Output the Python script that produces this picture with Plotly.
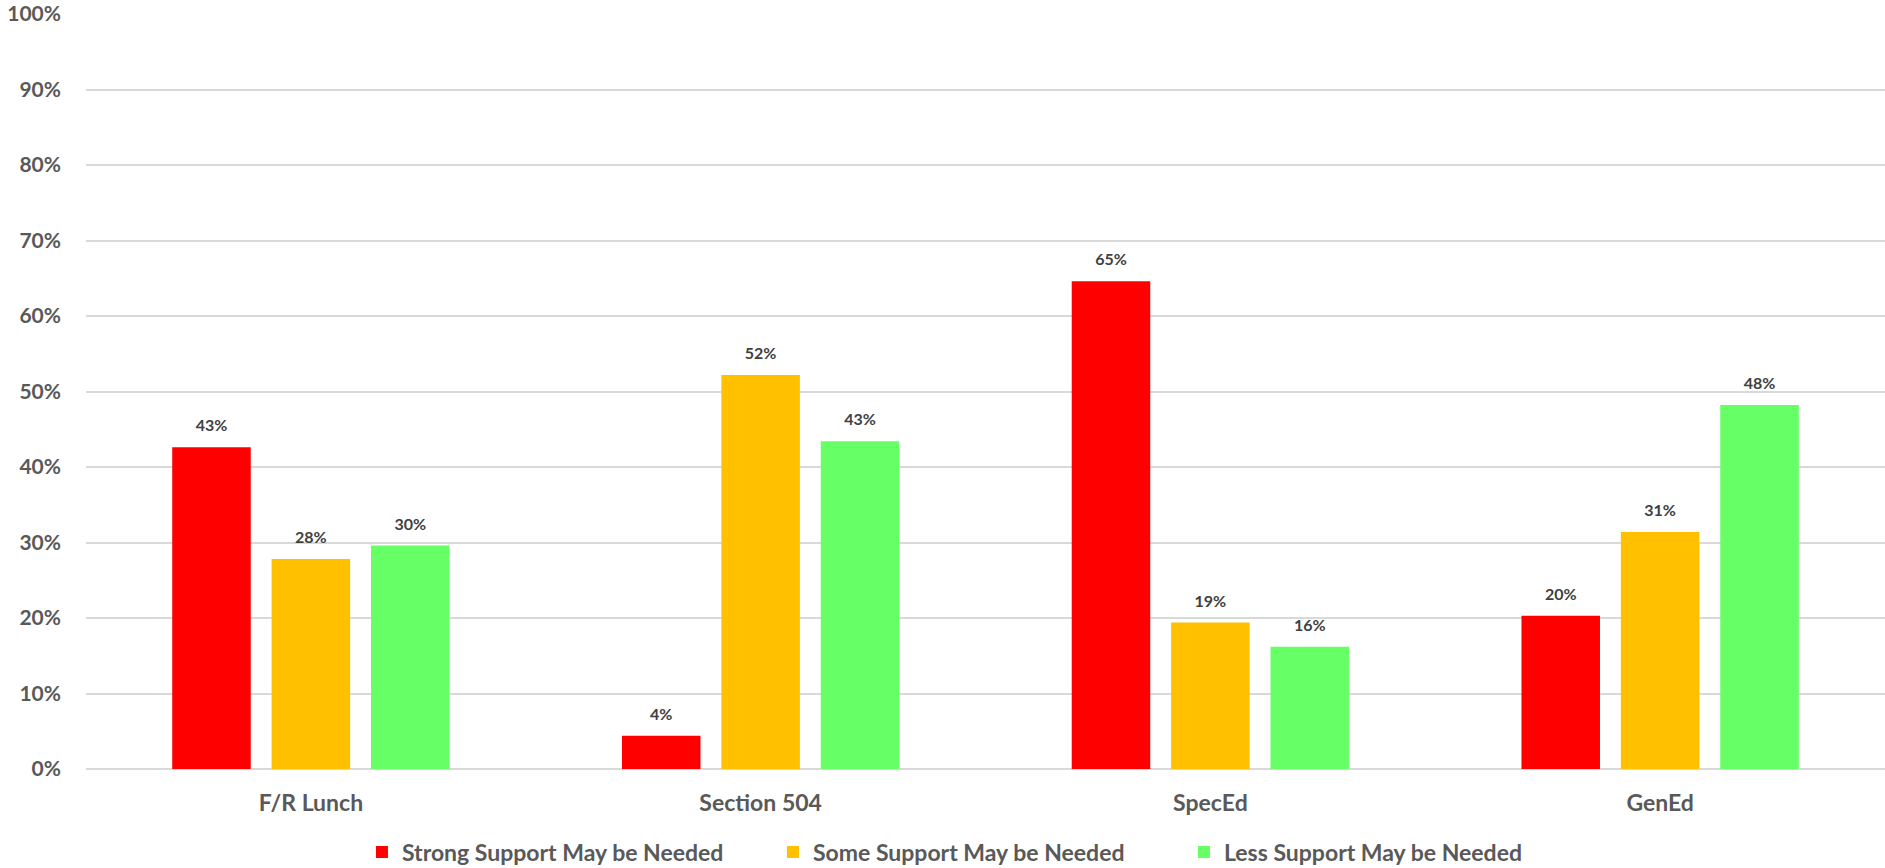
import plotly.graph_objects as go

categories = ["F/R Lunch", "Section 504", "SpecEd", "GenEd"]
series_names = ["Strong Support May be Needed", "Some Support May be Needed", "Less Support May be Needed"]
strong = [0.426, 0.044, 0.646, 0.203]
some = [0.278, 0.522, 0.194, 0.314]
less = [0.296, 0.434, 0.162, 0.482]
colors = ["#FF0000", "#FFC000", "#66FF66"]

FONT = "Lato"
# tall non-breaking spaces lift the outside labels a little above the bars
PAD = "<span style='font-size:60px'>\u00a0</span>"

fig = go.Figure()
for name, vals, col in zip(series_names, [strong, some, less], colors):
    fig.add_trace(go.Bar(
        x=categories, y=vals, name=name, marker_color=col,
        marker_line_width=0,
        texttemplate=PAD + "%{y:.0%}" + PAD, textposition="outside",
        textfont=dict(family=FONT, size=16, color="#404040", weight="bold"),
        constraintext="none", cliponaxis=False,
    ))

fig.update_layout(
    width=1885, height=868,
    barmode="group", bargap=0.337, bargroupgap=0.21,
    plot_bgcolor="white", paper_bgcolor="white",
    margin=dict(l=86, r=0, t=14, b=99, autoexpand=False),
    font=dict(family=FONT, color="#595959"),
    yaxis=dict(
        range=[0, 1], dtick=0.1, tickformat=".0%",
        showgrid=True, gridcolor="#D9D9D9", gridwidth=1.5,
        zeroline=True, zerolinecolor="#D9D9D9", zerolinewidth=1.5,
        tickfont=dict(family=FONT, size=21, color="#595959", weight="bold"),
        ticklabelstandoff=24, automargin=False,
    ),
    xaxis=dict(
        tickfont=dict(family=FONT, size=23, color="#595959", weight="bold"),
        showline=False, ticks="", automargin=False,
        ticklabelstandoff=18,
    ),
    legend=dict(
        orientation="h", x=0.1534, xanchor="left", y=-0.11, yanchor="middle",
        font=dict(family=FONT, size=23, color="#595959", weight="bold"),
        itemwidth=30, traceorder="normal", entrywidth=366,
    ),
    showlegend=True,
)

fig.write_html("out.html", config={"displayModeBar": False},
               post_script="document.body.style.margin='0';")
